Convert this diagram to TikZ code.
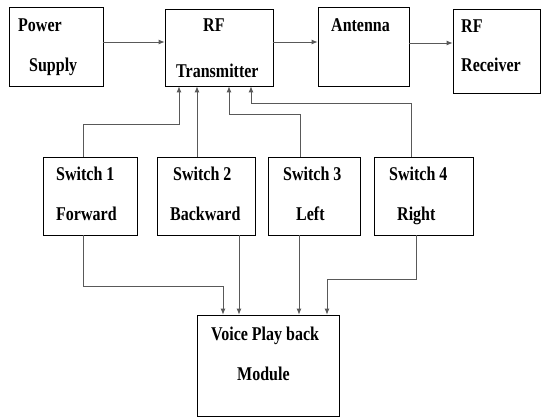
\documentclass[tikz,border=0pt]{standalone}
\usepackage{fontspec}
\setmainfont{Liberation Serif}
\usepackage{tikz}
\usetikzlibrary{arrows.meta}

% slightly tall, narrow lettering
\newcommand{\tall}[1]{\scalebox{0.97}[1.18]{#1}}

\begin{document}
\begin{tikzpicture}[x=1pt, y=-1pt,
    block/.style={draw, thick, rectangle, inner sep=0pt},
    txt/.style={anchor=base west, inner sep=0pt, font=\fontsize{16.5}{18}\selectfont\bfseries},
    link/.style={draw=black!65, line width=0.8pt, -{Latex[length=6pt, width=5pt]}}]
    \useasboundingbox (0,0) rectangle (541,417);

    % top row
    \node[block, minimum width=94, minimum height=79] at (56, 46.5) (ps) {};
    \node[block, minimum width=108, minimum height=77] at (219, 47.5) (tx) {};
    \node[block, minimum width=91, minimum height=79] at (363.5, 46.5) (ant) {};
    \node[block, minimum width=87, minimum height=84] at (496.5, 51) (rx) {};

    % switches
    \node[block, minimum width=94, minimum height=78] at (90, 196) (sw1) {};
    \node[block, minimum width=98, minimum height=78] at (206, 196) (sw2) {};
    \node[block, minimum width=92, minimum height=78] at (314, 196) (sw3) {};
    \node[block, minimum width=99, minimum height=78] at (423.5, 196) (sw4) {};

    % voice module
    \node[block, minimum width=142, minimum height=101] at (268, 365.5) (vm) {};

    % texts
    \node[txt] at (18, 32) (ps1) {\tall{Power}};
    \node[txt] at (29, 72) (ps2) {\tall{Supply}};
    \node[txt] at (203, 32) (tx1) {\tall{RF}};
    \node[txt] at (176, 78) (tx2) {\tall{Transmitter}};
    \node[txt] at (331, 32) (ant1) {\tall{Antenna}};
    \node[txt] at (461, 33) (rx1) {\tall{RF}};
    \node[txt] at (461, 72) (rx2) {\tall{Receiver}};
    \node[txt] at (56, 180) (sw1a) {\tall{Switch 1}};
    \node[txt] at (56, 220) (sw1b) {\tall{Forward}};
    \node[txt] at (173, 180) (sw2a) {\tall{Switch 2}};
    \node[txt] at (170, 220) (sw2b) {\tall{Backward}};
    \node[txt] at (283, 180) (sw3a) {\tall{Switch 3}};
    \node[txt] at (296, 220) (sw3b) {\tall{Left}};
    \node[txt] at (389, 180) (sw4a) {\tall{Switch 4}};
    \node[txt] at (397, 220) (sw4b) {\tall{Right}};
    \node[txt] at (211, 340) (vm1) {\tall{Voice Play back}};
    \node[txt] at (237, 380) (vm2) {\tall{Module}};

    % top chain
    \draw[link] ([yshift=4.5pt]ps.east) -- ([yshift=4.5pt]ps.east -| tx.west);
    \draw[link] ([yshift=5.5pt]tx.east) -- ([yshift=5.5pt]tx.east -| ant.west);
    \draw[link] ([yshift=3.5pt]ant.east) -- ([yshift=3.5pt]ant.east -| rx.west);

    % switches up to transmitter
    \draw[link] ([xshift=-7pt]sw1.north) -- ++(0,-32) -| ([xshift=-40pt]tx.south);
    \draw[link] ([xshift=-9pt]sw2.north) -- ([xshift=-9pt]sw2.north |- tx.south);
    \draw[link] ([xshift=-14pt]sw3.north) -- ++(0,-42) -| ([xshift=10pt]tx.south);
    \draw[link] ([xshift=-12.5pt]sw4.north) -- ++(0,-53) -| ([xshift=32pt]tx.south);

    % switches down to voice module
    \draw[link] ([xshift=-7pt]sw1.south) -- ++(0,51) -| ([xshift=-45pt]vm.north);
    \draw[link] ([xshift=33pt]sw2.south) -- ([xshift=33pt]sw2.south |- vm.north);
    \draw[link] ([xshift=-15pt]sw3.south) -- ([xshift=-15pt]sw3.south |- vm.north);
    \draw[link] ([xshift=-7.5pt]sw4.south) -- ++(0,44) -| ([xshift=59pt]vm.north);
\end{tikzpicture}
\end{document}
